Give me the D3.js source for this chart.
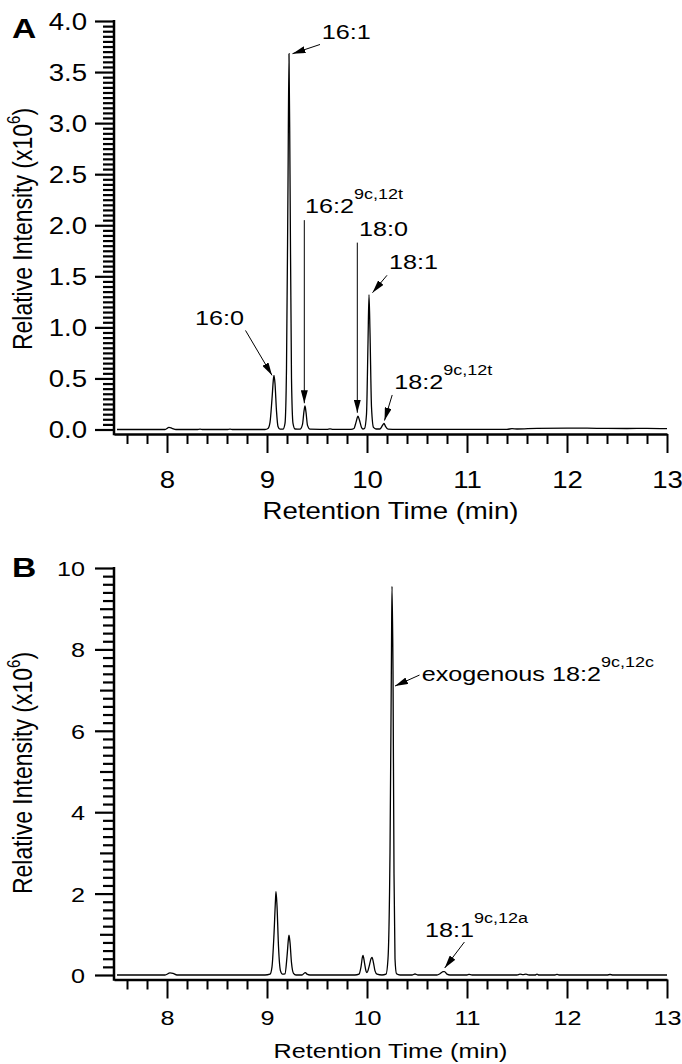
<!DOCTYPE html>
<html lang="en">
<head>
  <meta charset="UTF-8">
  <title>Chromatograms A and B</title>
  <script src="https://d3js.org/d3.v7.min.js"></script>
  <style type="text/css">
    body { margin: 0; background: #fff; }
    svg { display: block; font-family: "Liberation Sans", Arial, sans-serif; }
    .trace { fill: none; stroke: #000; stroke-width: 1.3; }
  </style>
</head>
<body>
<script type="text/javascript">
  // [retention time (min), relative intensity (x10^6)]
  var traceA = [
    [7.50,0],[7.98,0],[8.02,0.02],[8.05,0.012],[8.09,0],[8.30,0],[8.33,0.004],[8.36,0],[8.60,0],[8.63,0.004],[8.66,0],[8.98,0],
    [9.01,0.01],[9.03,0.07],[9.05,0.30],[9.065,0.50],[9.07,0.53],[9.08,0.45],[9.095,0.18],[9.11,0.03],[9.13,0.003],
    [9.16,0.003],[9.18,0.06],[9.195,0.60],[9.21,2.40],[9.22,3.68],[9.23,2.50],[9.245,0.50],[9.26,0.06],[9.28,0.005],
    [9.33,0.003],[9.355,0.05],[9.37,0.18],[9.38,0.23],[9.39,0.17],[9.405,0.04],[9.43,0.003],
    [9.60,0.002],[9.63,0.006],[9.66,0.002],[9.84,0.002],
    [9.87,0.01],[9.89,0.07],[9.91,0.13],[9.925,0.09],[9.945,0.02],[9.96,0.005],
    [9.975,0.01],[9.995,0.15],[10.01,0.85],[10.02,1.32],[10.03,0.95],[10.045,0.22],[10.065,0.02],[10.09,0.005],
    [10.13,0.005],[10.155,0.04],[10.17,0.06],[10.185,0.03],[10.21,0.004],
    [10.30,0.002],[11.00,0.002],[11.40,0.002],[11.45,0.008],[11.50,0.005],[11.70,0.012],[12.00,0.014],
    [12.30,0.012],[12.60,0.01],[12.80,0.012],[13.00,0.008]
  ];
  var traceB = [
    [7.50,0],[7.98,0],[8.03,0.05],[8.06,0.04],[8.10,0],[8.98,0],
    [9.03,0.02],[9.05,0.20],[9.07,1.00],[9.085,1.85],[9.09,2.05],[9.10,1.70],[9.115,0.70],[9.135,0.10],[9.155,0.02],
    [9.18,0.03],[9.20,0.45],[9.215,0.90],[9.22,0.98],[9.23,0.80],[9.245,0.30],[9.265,0.04],[9.29,0],
    [9.35,0],[9.375,0.05],[9.385,0.06],[9.40,0.02],[9.43,0],
    [9.88,0],[9.92,0.02],[9.94,0.20],[9.955,0.45],[9.96,0.48],[9.975,0.30],[9.99,0.10],[10.00,0.06],
    [10.02,0.20],[10.04,0.40],[10.05,0.43],[10.065,0.30],[10.08,0.10],[10.10,0.02],[10.15,0],
    [10.19,0.02],[10.21,0.40],[10.23,3.00],[10.245,8.00],[10.25,9.55],[10.26,7.50],[10.27,2.50],[10.28,0.40],[10.295,0.03],[10.33,0],
    [10.45,0],[10.48,0.025],[10.51,0],[10.70,0],[10.73,0.03],[10.76,0.08],[10.775,0.085],[10.80,0.02],[10.83,0],
    [11.00,0],[11.02,0.015],[11.05,0],[11.50,0],[11.53,0.02],[11.56,0.01],[11.59,0.02],[11.62,0],
    [11.68,0],[11.70,0.02],[11.72,0],[11.88,0],[11.90,0.015],[11.92,0],[12.40,0],[12.43,0.012],[12.46,0],[13.00,0]
  ];

  var xTicks = [8, 9, 10, 11, 12, 13];
  var yTicksA = [0, 0.5, 1, 1.5, 2, 2.5, 3, 3.5, 4];
  var yTicksB = [0, 2, 4, 6, 8, 10];

  // peak labels: text anchor (tx,ty) and arrow (x1,y1)->(x2,y2), all in data units
  var labelsA = [
    {name: "16:0", sup: "",       tx: 8.28,  ty: 1.02, x1: 8.785, y1: 0.97, x2: 9.05,  y2: 0.53},
    {name: "16:1", sup: "",       tx: 9.547, ty: 3.82, x1: 9.53,  y1: 3.77, x2: 9.255, y2: 3.68},
    {name: "16:2", sup: "9c,12t", tx: 9.38,  ty: 2.12, x1: 9.373, y1: 2.05, x2: 9.373, y2: 0.257},
    {name: "18:0", sup: "",       tx: 9.92,  ty: 1.895, x1: 9.903, y1: 1.83, x2: 9.903, y2: 0.164},
    {name: "18:1", sup: "",       tx: 10.22, ty: 1.57, x1: 10.20, y1: 1.51, x2: 10.055, y2: 1.34},
    {name: "18:2", sup: "9c,12t", tx: 10.273, ty: 0.394, x1: 10.252, y1: 0.338, x2: 10.175, y2: 0.088}
  ];
  var labelsB = [
    {name: "exogenous 18:2", sup: "9c,12c", tx: 10.547, ty: 7.22, x1: 10.525, y1: 7.37, x2: 10.28, y2: 7.10},
    {name: "18:1", sup: "9c,12a", tx: 10.58, ty: 0.934, x1: 10.974, y1: 0.81, x2: 10.777, y2: 0.172}
  ];

  var SX = 1.2;   // the figure's lettering is stretched sideways

  var svg = d3.select("body").append("svg")
    .attr("width", 682)
    .attr("height", 1064);
  svg.append("rect").attr("width", 682).attr("height", 1064).attr("fill", "#fff");

  svg.append("defs").append("marker")
    .attr("id", "head")
    .attr("viewBox", "0 0 13 7")
    .attr("refX", 13).attr("refY", 3.5)
    .attr("markerWidth", 13).attr("markerHeight", 7)
    .attr("markerUnits", "userSpaceOnUse")
    .attr("orient", "auto")
    .append("path").attr("d", "M0,0L13,3.5L0,7Z").attr("fill", "#000");

  var x = d3.scaleLinear().domain([7.47, 13]).range([114, 667]);

  var xMinor = d3.range(38, 65).filter(function(i){ return i % 5 != 0; })
                 .map(function(i){ return i * 0.2; });

  drawPanel({
    letter: "A", letterY: 38, trace: traceA, labels: labelsA,
    yMax: 4, yTop: 21, yZero: 429.5, axisY: 434,
    yTicks: yTicksA, yFmt: d3.format(".1f"),
    yMinor: d3.range(1, 80).filter(function(i){ return i % 10 != 0; }).map(function(i){ return i * 0.05; }),
    yMid: [],
    tickFont: 23, xPad: 19, yLabX: 87, titleY: 519, titleFont: 23, yTitleMid: 229
  });

  drawPanel({
    letter: "B", letterY: 577, trace: traceB, labels: labelsB,
    yMax: 10, yTop: 568, yZero: 975, axisY: 979.5,
    yTicks: yTicksB, yFmt: d3.format("d"),
    yMinor: d3.range(1, 50).filter(function(i){ return i % 5 != 0; }).map(function(i){ return i * 0.2; }),
    yMid: [1, 3, 5, 7, 9],
    tickFont: 21, xPad: 11.5, yLabX: 85, titleY: 1057.5, titleFont: 21, yTitleMid: 773
  });

  function drawPanel(p) {
    var y = d3.scaleLinear().domain([0, p.yMax]).range([p.yZero, p.yTop]);
    var g = svg.append("g");

    // x axis: minor then major ticks
    var xm = g.append("g")
      .attr("transform", "translate(0," + p.axisY + ")")
      .call(d3.axisBottom(x).tickValues(xMinor).tickSize(10).tickFormat(""));
    xm.select(".domain").remove();
    xm.selectAll(".tick line").style("stroke", "#000").style("stroke-width", "2px");

    var xa = g.append("g")
      .attr("transform", "translate(0," + p.axisY + ")")
      .call(d3.axisBottom(x).tickValues(xTicks).tickSize(19).tickSizeOuter(0)
              .tickPadding(p.xPad).tickFormat(d3.format("d")));
    xa.attr("font-size", p.tickFont).attr("font-family", null);
    xa.select(".domain").style("stroke", "#000").style("stroke-width", "2.5px");
    xa.selectAll(".tick line").style("stroke", "#000").style("stroke-width", "2px");
    xa.selectAll(".tick text").attr("fill", "#000").attr("transform", "scale(" + SX + ",1)");

    // y axis: minor (11 px) and medium (14 px) ticks
    var ym = g.append("g")
      .attr("transform", "translate(114,0)")
      .call(d3.axisLeft(y).tickValues(p.yMinor.concat(p.yMid)).tickSize(11).tickFormat(""));
    ym.select(".domain").remove();
    ym.selectAll(".tick line")
      .style("stroke", "#000")
      .style("stroke-width", "2.2px")
      .attr("x2", function(d){ return p.yMid.indexOf(d) >= 0 ? -14 : -11; });

    var ya = g.append("g")
      .attr("transform", "translate(114,0)")
      .call(d3.axisLeft(y).tickValues(p.yTicks).tickSize(19).tickFormat(p.yFmt));
    ya.attr("font-size", p.tickFont).attr("font-family", null);
    ya.select(".domain").remove();
    ya.selectAll(".tick line").style("stroke", "#000").style("stroke-width", "2.2px");
    ya.selectAll(".tick text")
      .attr("fill", "#000")
      .attr("x", 0)
      .attr("dy", "0.36em")
      .attr("transform", "translate(" + (p.yLabX - 114) + ",0) scale(" + SX + ",1)");

    g.append("line")
      .attr("x1", 114).attr("x2", 114)
      .attr("y1", y(p.yMax) - 1).attr("y2", p.axisY + 1.25)
      .attr("stroke", "#000").attr("stroke-width", 2.5);

    // trace
    var line = d3.line()
      .x(function(d){ return x(d[0]); })
      .y(function(d){ return y(d[1]); })
      .curve(d3.curveMonotoneX);
    g.append("path").datum(p.trace).attr("class", "trace").attr("d", line);

    // peak labels with arrows
    p.labels.forEach(function(l) {
      g.append("line")
        .attr("x1", x(l.x1)).attr("y1", y(l.y1))
        .attr("x2", x(l.x2)).attr("y2", y(l.y2))
        .attr("stroke", "#000").attr("stroke-width", 1)
        .attr("marker-end", "url(#head)");
      var t = g.append("text")
        .attr("font-size", 21)
        .attr("transform", "translate(" + x(l.tx) + "," + y(l.ty) + ") scale(" + SX + ",1)");
      t.append("tspan").text(l.name);
      if (l.sup) t.append("tspan").attr("dy", -14).attr("font-size", 15).text(l.sup);
    });

    // panel letter
    g.append("text")
      .attr("font-size", 28).attr("font-weight", "bold")
      .attr("transform", "translate(12," + p.letterY + ") scale(" + SX + ",1)")
      .text(p.letter);

    // axis titles
    g.append("text")
      .attr("font-size", p.titleFont)
      .attr("text-anchor", "middle")
      .attr("transform", "translate(" + ((114 + 667) / 2) + "," + p.titleY + ") scale(" + SX + ",1)")
      .text("Retention Time (min)");

    var yt = g.append("text")
      .attr("font-size", 23)
      .attr("text-anchor", "middle")
      .attr("transform", "translate(32," + p.yTitleMid + ") scale(" + SX + ",1) rotate(-90)");
    yt.append("tspan").text("Relative Intensity (x10");
    yt.append("tspan").attr("dy", -10).attr("font-size", 15).text("6");
    yt.append("tspan").attr("dy", 10).text(")");
  }
</script>
</body>
</html>
